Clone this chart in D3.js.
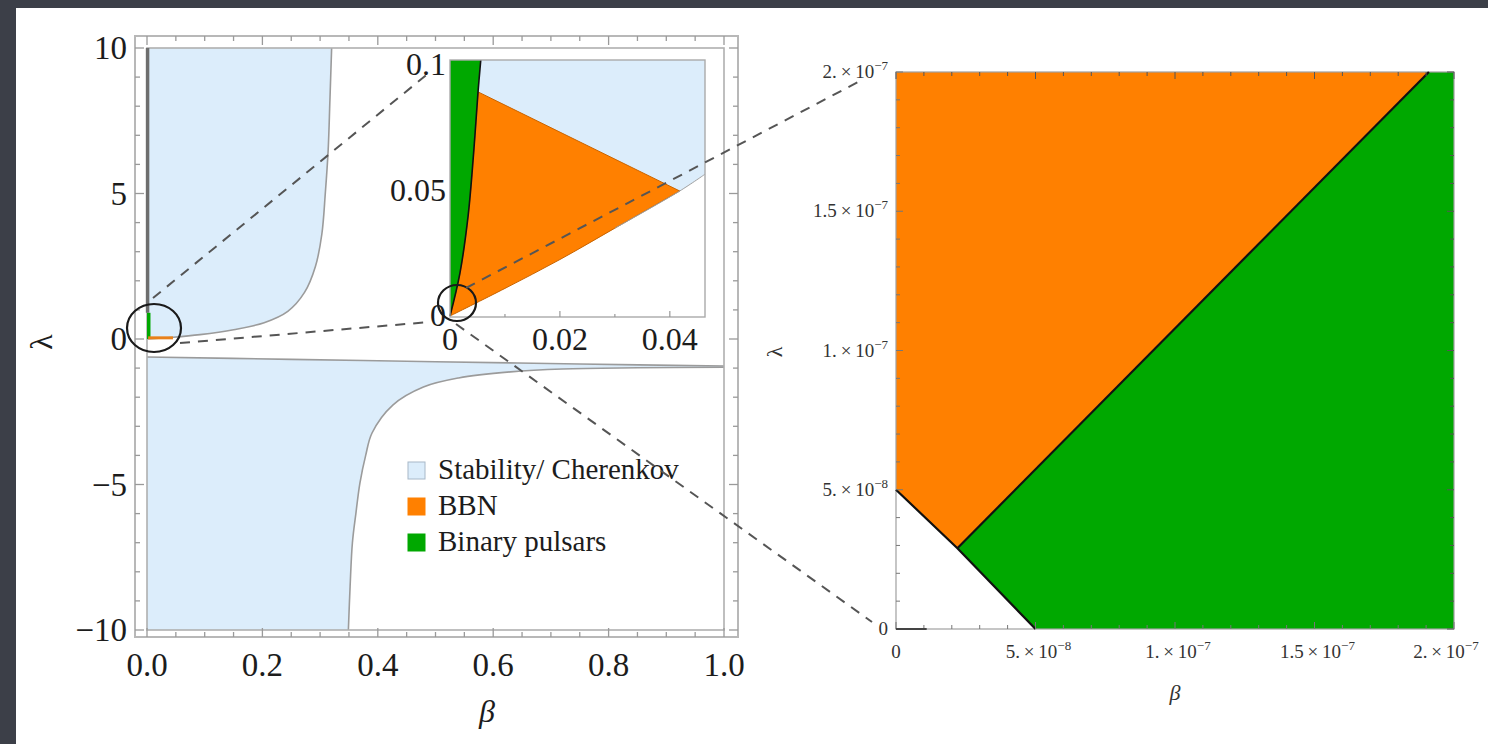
<!DOCTYPE html>
<html><head><meta charset="utf-8">
<script src="https://cdn.jsdelivr.net/npm/d3@7"></script>
<style>html,body{margin:0;padding:0;background:#3c3f48;overflow:hidden}</style>
</head><body><svg id="c" width="1488" height="744"></svg>
<script>
// ---------------- DATA ----------------
const mainBetaTicks = [0, 0.2, 0.4, 0.6, 0.8, 1.0];
const mainBetaLabels = ["0.0", "0.2", "0.4", "0.6", "0.8", "1.0"];
const mainLambdaTicks = [-10, -5, 0, 5, 10];
const mainLambdaLabels = ["\u221210", "\u22125", "0", "5", "10"];
// upper stability/Cherenkov boundary (beta, lambda)
const stabUpperCurve = [[0.320,10],[0.317,8.2],[0.314,6.5],[0.309,5.0],[0.303,3.6],[0.292,2.5],[0.273,1.6],[0.244,0.95],[0.203,0.56],[0.150,0.32],[0.092,0.15],[0.045,0.06],[0,0]];
// lower stability region: top edge and lower curve
const stabLowerTop = [[0,-0.62],[0.25,-0.70],[0.5,-0.78],[0.75,-0.86],[1,-0.93]];
const stabLowerCurve = [[0.349,-10],[0.352,-8.5],[0.356,-7.0],[0.362,-6.0],[0.369,-4.95],[0.379,-4.0],[0.39,-3.23],[0.426,-2.27],[0.479,-1.65],[0.54,-1.34],[0.63,-1.13],[0.72,-1.03],[0.85,-0.99],[1,-0.97]];
// tiny BBN / pulsar marks at full scale
const pulsarMain = [[0.003,0],[0.003,0.9]];
const pulsarMainSliver = [[0.001,0.9],[0.001,10]];
const bbnMain = [[0.002,0.04],[0.045,0.04]];
// inset
const insetBetaTicks = [0, 0.02, 0.04];
const insetBetaLabels = ["0", "0.02", "0.04"];
const insetLambdaTicks = [0, 0.05, 0.1];
const insetLambdaLabels = ["0", "0.05", "0.1"];
const stabInsetCurve = [[0,0],[0.01,0.011],[0.02,0.0225],[0.03,0.035],[0.0418,0.0498],[0.0464,0.0565]];
const bbnInsetLower = [[0,0],[0.01,0.011],[0.02,0.0225],[0.03,0.035],[0.0418,0.0498]];
const bbnInsetUpper = [[0.0418,0.0498],[0.0051,0.0893]];
const pulsarInsetEdge = [[0,0],[0.0018,0.017],[0.0033,0.04],[0.0043,0.065],[0.0051,0.0893],[0.0056,0.102]];
// zoomed panel
const zoomTicks = [0, 5e-8, 1e-7, 1.5e-7, 2e-7];
const zoomBetaMant = ["0", "5.", "1.", "1.5", "2."];
const zoomBetaExp = ["", "\u22128", "\u22127", "\u22127", "\u22127"];
const zoomLambdaMant = ["0", "5.", "1.", "1.5", "2."];
const zoomLambdaExp = ["", "\u22128", "\u22127", "\u22127", "\u22127"];
const bbnZoom = [[0,2e-7],[1.91e-7,2e-7],[2.2e-8,2.9e-8],[0,5e-8]];
const pulsarZoom = [[2.2e-8,2.9e-8],[1.91e-7,2e-7],[2e-7,2e-7],[2e-7,0],[5e-8,0]];
const zoomEdgeLower = [[0,5e-8],[2.2e-8,2.9e-8],[5e-8,0]];
const zoomEdgeUpper = [[2.2e-8,2.9e-8],[1.91e-7,2e-7]];
// legend
const legendLabels = ["Stability/ Cherenkov", "BBN", "Binary pulsars"];
const legendColors = ["#dcedfb", "#ff8000", "#00a800"];

// ---------------- DRAW ----------------
const svg = d3.select("#c");
const SERIF = "'Liberation Serif','Times New Roman',serif";
const BLUE = "#dcedfb", ORANGE = "#ff8000", GREEN = "#00a800";
const TXT = "#1c1c1c";

svg.append("rect").attr("width",1488).attr("height",744).attr("fill","#3c3f48");
svg.append("rect").attr("x",16).attr("y",8).attr("width",1472).attr("height",736).attr("fill","#ffffff");

// ---- main plot ----
const xM = d3.scaleLinear().domain([0,1]).range([147,724]);
const yM = d3.scaleLinear().domain([-10,10]).range([630,48]);
const lineM = d3.line().x(d=>xM(d[0])).y(d=>yM(d[1]));
const smoothM = d3.line().x(d=>xM(d[0])).y(d=>yM(d[1])).curve(d3.curveCatmullRom.alpha(0.5));
const cont = s => "L" + s.slice(1);
const gM = svg.append("g");

// upper blue region
gM.append("path").attr("d", smoothM(stabUpperCurve) + cont(lineM([[0,10]])) + "Z").attr("fill",BLUE);
// lower blue region
gM.append("path").attr("d", smoothM(stabLowerCurve) + cont(lineM(stabLowerTop.slice().reverse())) + cont(lineM([[0,-10]])) + "Z").attr("fill",BLUE);
// boundary curves
[stabUpperCurve, stabLowerTop, stabLowerCurve].forEach(c=>{
  gM.append("path").attr("d", smoothM(c)).attr("fill","none").attr("stroke","#9b9b9b").attr("stroke-width",1.6);
});
// plot-region box
gM.append("rect").attr("x",xM(0)).attr("y",yM(10)).attr("width",xM(1)-xM(0)).attr("height",yM(-10)-yM(10))
  .attr("fill","none").attr("stroke","#b0b0b0").attr("stroke-width",1.6);
// pulsar sliver along beta=0
gM.append("path").attr("d", lineM(pulsarMainSliver)).attr("stroke","#6e6e6e").attr("stroke-width",3.5);
gM.append("path").attr("d", lineM(pulsarMain)).attr("stroke",GREEN).attr("stroke-width",3.5);
gM.append("path").attr("d", lineM(bbnMain)).attr("stroke","#e8801a").attr("stroke-width",3);

// frame
const F = {l:135, r:738, t:36, b:637};
gM.append("rect").attr("x",F.l).attr("y",F.t).attr("width",F.r-F.l).attr("height",F.b-F.t)
  .attr("fill","none").attr("stroke","#b8b8b8").attr("stroke-width",2);
const xMinor = d3.range(0,1.0001,0.05), yMinor = d3.range(-10,10.001,1);
xMinor.forEach(v=>{
  const major = mainBetaTicks.some(t=>Math.abs(t-v)<1e-6), L = major?9:5;
  gM.append("line").attr("x1",xM(v)).attr("x2",xM(v)).attr("y1",F.b).attr("y2",F.b-L).attr("stroke","#9a9a9a").attr("stroke-width",1.3);
  gM.append("line").attr("x1",xM(v)).attr("x2",xM(v)).attr("y1",F.t).attr("y2",F.t+L).attr("stroke","#9a9a9a").attr("stroke-width",1.3);
});
yMinor.forEach(v=>{
  const major = mainLambdaTicks.some(t=>Math.abs(t-v)<1e-6), L = major?9:5;
  gM.append("line").attr("y1",yM(v)).attr("y2",yM(v)).attr("x1",F.l).attr("x2",F.l+L).attr("stroke","#9a9a9a").attr("stroke-width",1.3);
  gM.append("line").attr("y1",yM(v)).attr("y2",yM(v)).attr("x1",F.r).attr("x2",F.r-L).attr("stroke","#9a9a9a").attr("stroke-width",1.3);
});
mainBetaTicks.forEach((v,i)=>{
  gM.append("text").attr("x",xM(v)).attr("y",676).attr("text-anchor","middle")
    .attr("font-family",SERIF).attr("font-size",33).attr("fill",TXT).text(mainBetaLabels[i]);
});
mainLambdaTicks.forEach((v,i)=>{
  gM.append("text").attr("x",127).attr("y",yM(v)+11).attr("text-anchor","end")
    .attr("font-family",SERIF).attr("font-size",33).attr("fill",TXT).text(mainLambdaLabels[i]);
});
gM.append("text").attr("x",487).attr("y",722).attr("text-anchor","middle")
  .attr("font-family",SERIF).attr("font-style","italic").attr("font-size",32).attr("fill",TXT).text("\u03b2");
gM.append("text").attr("transform","translate(52,342) rotate(-90)").attr("text-anchor","middle")
  .attr("font-family",SERIF).attr("font-size",32).attr("fill",TXT).text("\u03bb");

// ---- inset ----
const gI = svg.append("g");
gI.append("rect").attr("x",400).attr("y",50).attr("width",322).attr("height",302).attr("fill","#fff");
const xI = d3.scaleLinear().domain([0,0.0464]).range([450,705]);
const yI = d3.scaleLinear().domain([0,0.102]).range([316,60]);
const lineI = d3.line().x(d=>xI(d[0])).y(d=>yI(d[1]));
const smoothI = d3.line().x(d=>xI(d[0])).y(d=>yI(d[1])).curve(d3.curveCatmullRom.alpha(0.5));
insetLambdaTicks.forEach((v,i)=>{
  gI.append("text").attr("x",446).attr("y",yI(v)+10).attr("text-anchor","end")
    .attr("font-family",SERIF).attr("font-size",32).attr("fill",TXT).text(insetLambdaLabels[i]);
});
// blue
gI.append("path").attr("d", lineI([[0,0.102],[0.0464,0.102]]) + cont(smoothI(stabInsetCurve.slice().reverse())) + "Z").attr("fill",BLUE);
// orange BBN
gI.append("path").attr("d", smoothI(bbnInsetLower) + cont(lineI(bbnInsetUpper)) + cont(smoothI(pulsarInsetEdge.slice(0,5).reverse())) + "Z")
  .attr("fill",ORANGE).attr("stroke","#c96400").attr("stroke-width",1);
// green pulsar
gI.append("path").attr("d", smoothI(pulsarInsetEdge) + cont(lineI([[0,0.102]])) + "Z").attr("fill",GREEN);
gI.append("path").attr("d", smoothI(pulsarInsetEdge)).attr("fill","none").attr("stroke","#111").attr("stroke-width",1.6);
gI.append("path").attr("d", smoothI(stabInsetCurve.slice(3)).replace(/^M[^LC]*/, m=>m)).attr("fill","none").attr("stroke","#a0a0a0").attr("stroke-width",1)
  .attr("clip-path",null);
gI.append("rect").attr("x",450).attr("y",60).attr("width",255).attr("height",257)
  .attr("fill","none").attr("stroke","#aaa").attr("stroke-width",1.4);
[0.01,0.02,0.03,0.04].forEach(v=>{
  const L = insetBetaTicks.some(t=>Math.abs(t-v)<1e-9)?6:3;
  gI.append("line").attr("x1",xI(v)).attr("x2",xI(v)).attr("y1",317).attr("y2",317-L).attr("stroke","#999").attr("stroke-width",1.2);
});
insetBetaTicks.forEach((v,i)=>{
  gI.append("text").attr("x",xI(v)).attr("y",350).attr("text-anchor","middle")
    .attr("font-family",SERIF).attr("font-size",32).attr("fill",TXT).text(insetBetaLabels[i]);
});

// circles
svg.append("ellipse").attr("cx",154).attr("cy",328).attr("rx",27).attr("ry",24)
  .attr("fill","none").attr("stroke","#1a1a1a").attr("stroke-width",2.2);
svg.append("ellipse").attr("cx",457).attr("cy",303).attr("rx",19).attr("ry",18)
  .attr("fill","none").attr("stroke","#1a1a1a").attr("stroke-width",2.2);

// legend
const gL = svg.append("g");
legendLabels.forEach((t,i)=>{
  const cy = 470 + i*36;
  gL.append("rect").attr("x",408).attr("y",cy-8).attr("width",17).attr("height",17)
    .attr("fill",legendColors[i]).attr("stroke", i===0?"#a8b8c8":legendColors[i]).attr("stroke-width",1);
  gL.append("text").attr("x",438).attr("y",cy+9).attr("font-family",SERIF).attr("font-size",29)
    .attr("fill",TXT).text(t);
});

// ---- zoom panel ----
const xR = d3.scaleLinear().domain([0,2e-7]).range([896,1454]);
const yR = d3.scaleLinear().domain([0,2e-7]).range([629,72]);
const lineR = d3.line().x(d=>xR(d[0])).y(d=>yR(d[1]));
const gR = svg.append("g");
gR.append("path").attr("d", lineR(bbnZoom)+"Z").attr("fill",ORANGE);
gR.append("path").attr("d", lineR(pulsarZoom)+"Z").attr("fill",GREEN);
gR.append("rect").attr("x",896).attr("y",72).attr("width",558).attr("height",557)
  .attr("fill","none").attr("stroke","#a0a0a0").attr("stroke-width",1.2);
[zoomEdgeLower, zoomEdgeUpper].forEach(c=>{
  gR.append("path").attr("d", lineR(c)).attr("fill","none").attr("stroke","#111").attr("stroke-width",2.2);
});
const rMinor = d3.range(0,20.5,1).map(k=>k*1e-8);
rMinor.forEach((v,k)=>{
  const L = (k%5===0)?7:4;
  gR.append("line").attr("x1",xR(v)).attr("x2",xR(v)).attr("y1",629).attr("y2",629-L).attr("stroke","#777").attr("stroke-width",1);
  gR.append("line").attr("x1",xR(v)).attr("x2",xR(v)).attr("y1",72).attr("y2",72+L).attr("stroke","#555").attr("stroke-width",1);
  gR.append("line").attr("y1",yR(v)).attr("y2",yR(v)).attr("x1",896).attr("x2",896+L).attr("stroke","#777").attr("stroke-width",1);
  gR.append("line").attr("y1",yR(v)).attr("y2",yR(v)).attr("x1",1454).attr("x2",1454-L).attr("stroke","#555").attr("stroke-width",1);
});
gR.append("line").attr("x1",xR(0)).attr("x2",xR(1.1e-8)).attr("y1",629).attr("y2",629).attr("stroke","#444").attr("stroke-width",2);
function sciLabel(g, x, y, anchor, mant, exp){
  const t = g.append("text").attr("x",x).attr("y",y).attr("text-anchor",anchor)
    .attr("font-family",SERIF).attr("font-size",19).attr("fill","#333");
  if(!exp){ t.text(mant); return; }
  t.append("tspan").text(mant+"\u2009\u00d7\u200910");
  t.append("tspan").attr("dy",-8).attr("font-size",13).text(exp);
}
zoomTicks.forEach((v,i)=>{
  const dx = i===0 ? 0 : (i===zoomTicks.length-1 ? -8 : 3);
  sciLabel(gR, xR(v)+dx, 658, "middle", zoomBetaMant[i], zoomBetaExp[i]);
  sciLabel(gR, 888, yR(v)+6, "end", zoomLambdaMant[i], zoomLambdaExp[i]);
});
gR.append("text").attr("x",1175).attr("y",700).attr("text-anchor","middle")
  .attr("font-family",SERIF).attr("font-style","italic").attr("font-size",22).attr("fill","#333").text("\u03b2");
gR.append("text").attr("transform","translate(782,352) rotate(-90)").attr("text-anchor","middle")
  .attr("font-family",SERIF).attr("font-size",22).attr("fill","#333").text("\u03bb");

// ---- dashed connector lines ----
const connectors = [[153,298,430,72],[180,343,430,322],[466,288,862,80],[456,324,872,622]];
connectors.forEach(c=>{
  svg.append("line").attr("x1",c[0]).attr("y1",c[1]).attr("x2",c[2]).attr("y2",c[3])
    .attr("stroke","#555").attr("stroke-width",2).attr("stroke-dasharray","10,8");
});
</script></body></html>
